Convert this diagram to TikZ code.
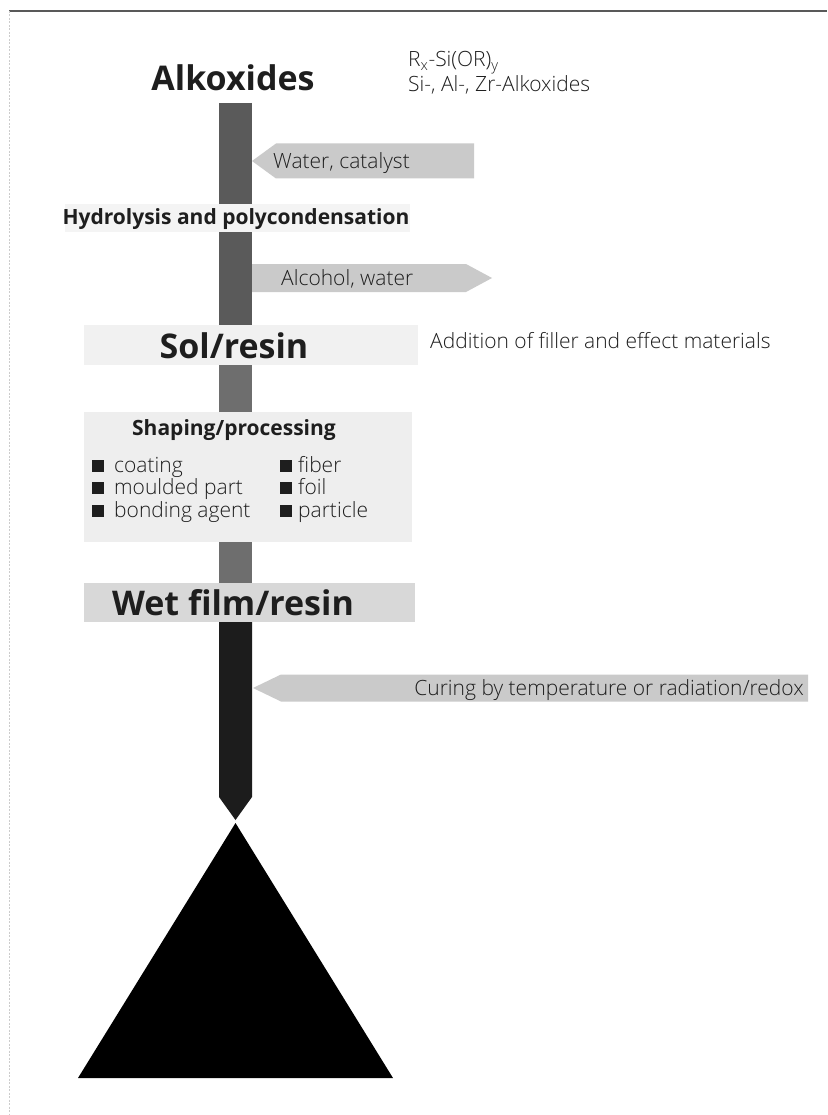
\documentclass[tikz,border=0pt]{standalone}
\usepackage{fontspec}
\setmainfont{Open Sans}
\newfontfamily\lightfont{Open Sans Light}
\usetikzlibrary{calc}

\definecolor{ink}{HTML}{1E1E1E}
\definecolor{bandfaint}{HTML}{F4F4F4}
\definecolor{bandlight}{HTML}{F1F1F1}
\definecolor{boxlight}{HTML}{EEEEEE}
\definecolor{banddark}{HTML}{D8D8D8}
\definecolor{arrowgray}{HTML}{CACACA}
\definecolor{barmid}{HTML}{5A5A5A}
\definecolor{barlight}{HTML}{6E6E6E}
\definecolor{bardark}{HTML}{1C1C1C}
\definecolor{solid}{HTML}{111111}

\tikzset{
  big/.style={font=\fontsize{34}{37}\selectfont\bfseries, text=ink, inner sep=0pt},
  mid/.style={font=\fontsize{21}{24}\selectfont\bfseries, text=ink, inner sep=0pt},
  txt/.style={font=\lightfont\fontsize{21}{24}\selectfont, text=ink, inner sep=0pt},
  band/.style={fill=#1, draw=none, inner sep=0pt},
  bar/.style={draw=#1, line width=33pt},
  sidearrow/.style={fill=arrowgray, draw=none},
  bulletsq/.style={fill=ink, draw=none, inner sep=0pt, minimum size=12pt}
}

\begin{document}
\begin{tikzpicture}[x=1pt,y=-1pt]
\useasboundingbox (0,0) rectangle (827,1115);
\fill[white] (0,0) rectangle (827,1115);

% page frame: top rule and faint left edge
\draw[line width=2pt, gray!70!black] (9,11) -- (827,11);
\draw[line width=0.8pt, gray!40, dash pattern=on 2pt off 1.5pt] (9,11) -- (9,1115);

% axis of the process column
\coordinate (axis) at (235.5,0);

% background bands of the stages
\node[band=bandfaint, minimum width=345pt, minimum height=28pt] (hydband) at (237.5,218) {};
\node[band=bandlight, minimum width=334pt, minimum height=40pt] (solband) at (251,345) {};
\node[band=boxlight, minimum width=328pt, minimum height=130pt] (shapebox) at (248,477) {};
\node[band=banddark, minimum width=331pt, minimum height=39pt] (wetband) at (249.5,602.5) {};

% stage labels
\node[big, anchor=base] (alk) at (233,91) {Alkoxides};
\node[mid, anchor=base] (hyd) at (236,225) {Hydrolysis and polycondensation};
\node[big, anchor=base] (sol) at (234,358) {Sol/resin};
\node[mid, anchor=base] (shape) at (234,435) {Shaping/processing};
\node[big, anchor=base] (wet) at (233,615) {Wet film/resin};

% vertical flow bars
\coordinate (alkfoot) at (235.5,103);
\draw[bar=barmid] (alkfoot) -- (axis |- hydband.north);
\draw[bar=barmid] (axis |- hydband.south) -- (axis |- solband.north);
\draw[bar=barlight] (axis |- solband.south) -- (axis |- shapebox.north);
\draw[bar=barlight] (axis |- shapebox.south) -- (axis |- wetband.north);

% last bar, tapering to a point
\coordinate (point) at (235.5,820);
\fill[bardark] ($(axis |- wetband.south)+(-16.5,0)$) -- (219,797) -- (point)
  -- (252,797) -- ($(axis |- wetband.south)+(16.5,0)$) -- cycle;

% final solid triangle
\coordinate (apex) at (235.5,823);
\fill[solid] (apex) -- (393,1078) -- (78,1078) -- cycle;

% side arrows
\fill[sidearrow] (252,161) -- (276,143.5) -- (474,143.5) -- (474,178.5) -- (276,178.5) -- cycle;
\node[txt, anchor=base west] (water) at (273,169) {Water, catalyst};

\fill[sidearrow] (252,264) -- (466,264) -- (492,278) -- (466,292) -- (252,292) -- cycle;
\node[txt, anchor=base west] (alc) at (281,285) {Alcohol, water};

\fill[sidearrow] (253,688) -- (281,674.5) -- (808,674.5) -- (808,701.5) -- (281,701.5) -- cycle;
\node[txt, anchor=base east] (cure) at (804,695) {Curing by temperature or radiation/redox};

% side notes
\node[txt, anchor=base west] (rsi) at (408,67) {R\textsubscript{x}-Si(OR)\textsubscript{y}};
\node[txt, anchor=base west] (sial) at (408,92) {Si-, Al-, Zr-Alkoxides};
\node[txt, anchor=base west] (add) at (430,348) {Addition of filler and effect materials};

% shaping options, two columns
\foreach \y/\name/\lab in {472/coat/coating, 494/mould/moulded part, 517/bond/bonding agent}{
  \node[bulletsq, anchor=south west] (b\name) at (92,\y) {};
  \node[txt, anchor=base west] (\name) at (114,\y) {\lab};
}
\foreach \y/\name/\lab in {472/fib/fiber, 494/foil/foil, 517/part/particle}{
  \node[bulletsq, anchor=south west] (b\name) at (280,\y) {};
  \node[txt, anchor=base west] (\name) at (298,\y) {\lab};
}
\end{tikzpicture}
\end{document}
